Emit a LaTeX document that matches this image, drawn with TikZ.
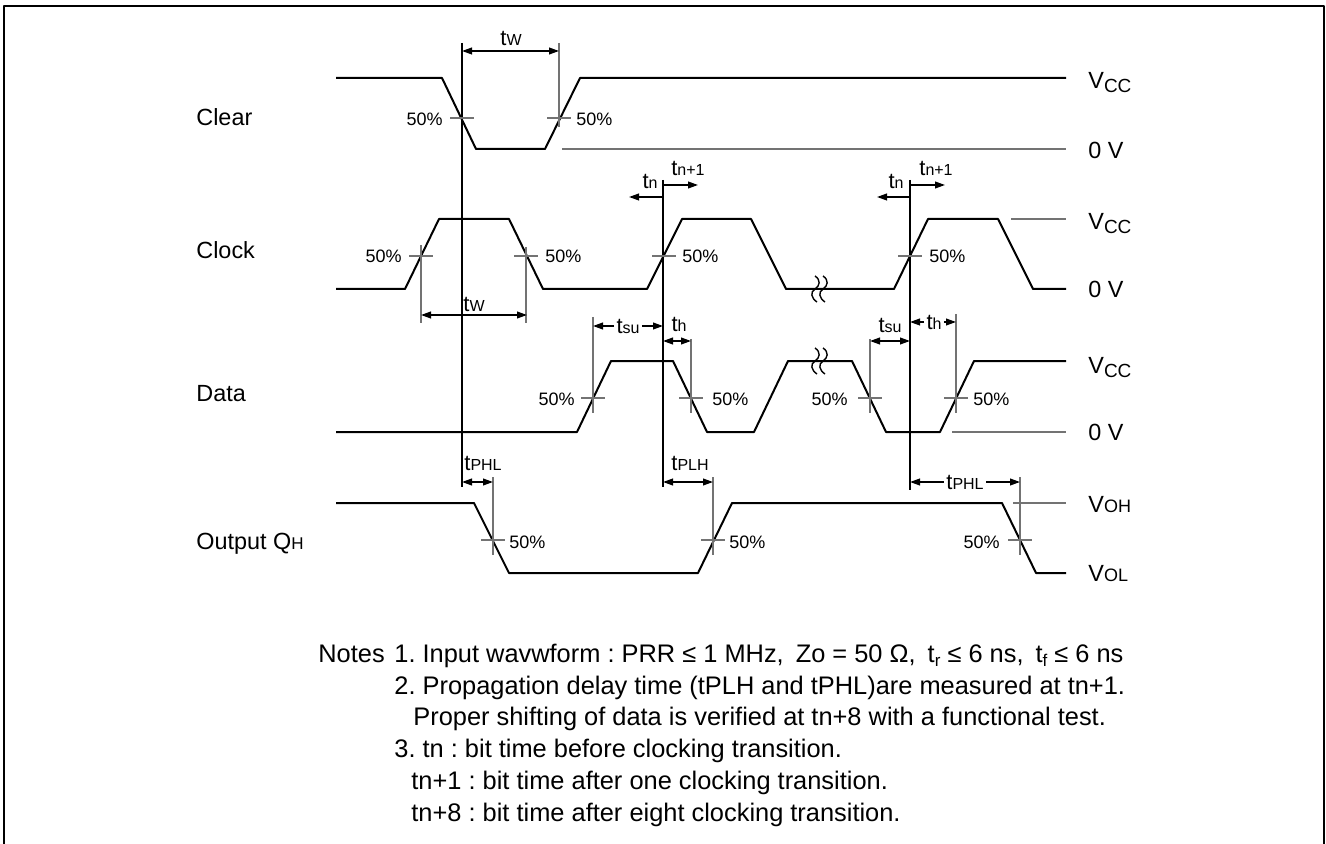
\documentclass[tikz,border=0pt]{standalone}
\usepackage{fontspec}
\setmainfont{Liberation Sans}
\usetikzlibrary{arrows.meta}
\newcommand\tlab[1]{{\fontsize{11}{13}\selectfont t\fontsize{8}{9}\selectfont #1}}
\newcommand\vcc{V\raisebox{-2pt}{\fontsize{9.5}{10}\selectfont CC}}
\newcommand\vsub[1]{V{\fontsize{9}{10}\selectfont #1}}
\newcommand\tsb[1]{t\raisebox{-2pt}{\fontsize{8.5}{9}\selectfont #1}}
\begin{document}
\begin{tikzpicture}[x=0.5pt,y=-0.5pt,line join=round,>={Triangle[length=5pt,width=3.4pt]}]
	\tikzset{wave/.style={line width=1pt},
		guide/.style={black!55,line width=0.6pt},
		dim/.style={line width=0.75pt},
		tl/.style={inner sep=1pt},
		pct/.style={font=\fontsize{9}{10}\selectfont,inner sep=0pt},
		sig/.style={font=\fontsize{11.7}{14}\selectfont,inner sep=0pt,anchor=base west},
		note/.style={font=\fontsize{12.7}{14}\selectfont\frenchspacing,inner sep=0pt,anchor=base west},
		half/.pic={\draw[guide] (-12,0) -- (12,0);},
		brk/.pic={\draw[line width=0.7pt]
			(-3,-13) .. controls (3,-9) and (2,-3) .. (-3,0) .. controls (-8,3) and (-7,9) .. (-1,13)
			(5,-13) .. controls (11,-9) and (10,-3) .. (5,0) .. controls (0,3) and (1,9) .. (7,13);}}
	\useasboundingbox (0,0) rectangle (1326,844);
	\draw[line width=1.4pt] (4,844) -- (4,6) -- (1324,6) -- (1324,844);
	
	\node[sig] (clr) at (196,126) {Clear};
	\node[sig] (clk) at (196,259) {Clock};
	\node[sig] (dat) at (196,401) {Data};
	\node[sig] (out) at (196,549) {Output Q{\fontsize{8.5}{10}\selectfont H}};
	\node[sig] (v1) at (1088,89) {\vcc};
	\node[sig] (g1) at (1088,159) {0 V};
	\node[sig] (v2) at (1088,230) {\vcc};
	\node[sig] (g2) at (1088,298) {0 V};
	\node[sig] (v3) at (1088,373) {\vcc};
	\node[sig] (g3) at (1088,440) {0 V};
	\node[sig] (voh) at (1088,512) {\vsub{OH}};
	\node[sig] (vol) at (1088,581) {\vsub{OL}};
	
	\draw[wave] (336,78) -- (442,78) -- (476,149) -- (545,149) -- (580,78) -- (1066,78);
	\draw[wave] (336,289) -- (405,289) -- (439,219) -- (509,219) -- (543,289) -- (647,289) -- (682,219) -- (751,219)
		-- (786,289) -- (894,289) -- (928,219) -- (998,219) -- (1033,289) -- (1066,289);
	\draw[wave] (336,432) -- (577,432) -- (611,361) -- (673,361) -- (707,432) -- (754,432) -- (788,361) -- (852,361)
		-- (886,432) -- (940,432) -- (974,361) -- (1066,361);
	\draw[wave] (336,503) -- (474,503) -- (509,573) -- (698,573) -- (732,503) -- (1002,503) -- (1036,573) -- (1066,573);
	\draw[guide] (562,149) -- (1066,149) (1011,219) -- (1066,219) (952,432) -- (1066,432) (1013,503) -- (1066,503);
	\path (818,289) pic{brk} (818,361) pic{brk};
	
	\draw[line width=0.6pt] (462,43) -- (462,487) (663,180) -- (663,487) (910,180) -- (910,490);
	\draw[guide] (559,43) -- (559,127) (421,245) -- (421,323) (526,247) -- (526,323)
		(593,317) -- (593,413) (691,339) -- (691,413) (870,339) -- (870,413) (956,314) -- (956,413)
		(493,477) -- (493,555) (713,477) -- (713,555) (1020,477) -- (1020,555);
	\path
	(462,118) pic{half} (559,118) pic{half}
	(421,256) pic{half} (526,256) pic{half} (664,256) pic{half} (910,256) pic{half}
	(593,398) pic{half} (691,398) pic{half} (870,398) pic{half} (956,398) pic{half}
	(493,540) pic{half} (713,540) pic{half} (1020,540) pic{half}
	;
	\node[pct,anchor=base east] (p1) at (443,126) {50\%};
	\node[pct,anchor=base west] (p2) at (576,126) {50\%};
	\node[pct,anchor=base east] (p3) at (402,263) {50\%};
	\node[pct,anchor=base west] (p4) at (545,263) {50\%};
	\node[pct,anchor=base west] (p5) at (682,263) {50\%};
	\node[pct,anchor=base west] (p6) at (929,263) {50\%};
	\node[pct,anchor=base east] (p7) at (575,405) {50\%};
	\node[pct,anchor=base west] (p8) at (712,405) {50\%};
	\node[pct,anchor=base east] (p9) at (848,405) {50\%};
	\node[pct,anchor=base west] (p10) at (973,405) {50\%};
	\node[pct,anchor=base west] (p11) at (509,548) {50\%};
	\node[pct,anchor=base west] (p12) at (729,548) {50\%};
	\node[pct,anchor=base east] (p13) at (1000,548) {50\%};
	
	\node[tl] (tw1) at (511,38) {\tlab{W}};
	\draw[dim,<->] (462,51) -- (559,51);
	\node[tl] (tw2) at (474,304) {\tlab{W}};
	\draw[dim,<->] (421,315) -- (527,315);
	\node[tl] (tn1) at (650,181) {\tlab{n}};
	\node[tl] (tm1) at (688,168) {\tlab{n+1}};
	\draw[dim,->] (663,197) -- (629,197);
	\draw[dim,->] (663,185) -- (698,185);
	\node[tl] (tn2) at (896,181) {\tlab{n}};
	\node[tl] (tm2) at (936,168) {\tlab{n+1}};
	\draw[dim,->] (910,197) -- (877,197);
	\draw[dim,->] (910,185) -- (945,185);
	\node[tl] (su1) at (628,326) {\tlab{su}};
	\draw[dim,->] (su1.west) -- (593,326);
	\draw[dim,->] (su1.east) -- (663,326);
	\node[tl] (h1) at (679,324) {\tlab{h}};
	\draw[dim,<->] (663,341) -- (691,341);
	\node[tl] (su2) at (890,325) {\tlab{su}};
	\draw[dim,<->] (870,341) -- (910,341);
	\node[tl] (h2) at (934,322) {\tlab{h}};
	\draw[dim,->] (h2.west) -- (910,322);
	\draw[dim,->] (h2.east) -- (956,322);
	\node[tl] (phl1) at (483,463) {\tlab{PHL}};
	\draw[dim,<->] (462,482) -- (493,482);
	\node[tl] (plh) at (690,463) {\tlab{PLH}};
	\draw[dim,<->] (663,482) -- (713,482);
	\node[tl] (phl2) at (965,482) {\tlab{PHL}};
	\draw[dim,->] (phl2.west) -- (910,482);
	\draw[dim,->] (phl2.east) -- (1020,482);
	
	\node[note] (nt) at (318,662) {Notes};
	\node[note] (n1) at (394,662) {1. Input wavwform : PRR ≤ 1 MHz,\hspace{6pt}Zo = 50 Ω,\hspace{6pt}\tsb{r} ≤ 6 ns,\hspace{6pt}\tsb{f} ≤ 6 ns};
	\node[note] (n2) at (394,694) {2. Propagation delay time (tPLH and tPHL)are measured at tn+1.};
	\node[note] (n2b) at (413,725) {Proper shifting of data is verified at tn+8 with a functional test.};
	\node[note] (n3) at (394,757) {3. tn : bit time before clocking transition.};
	\node[note] (n3b) at (411,789) {tn+1 : bit time after one clocking transition.};
	\node[note] (n3c) at (411,821) {tn+8 : bit time after eight clocking transition.};
\end{tikzpicture}
\end{document}
